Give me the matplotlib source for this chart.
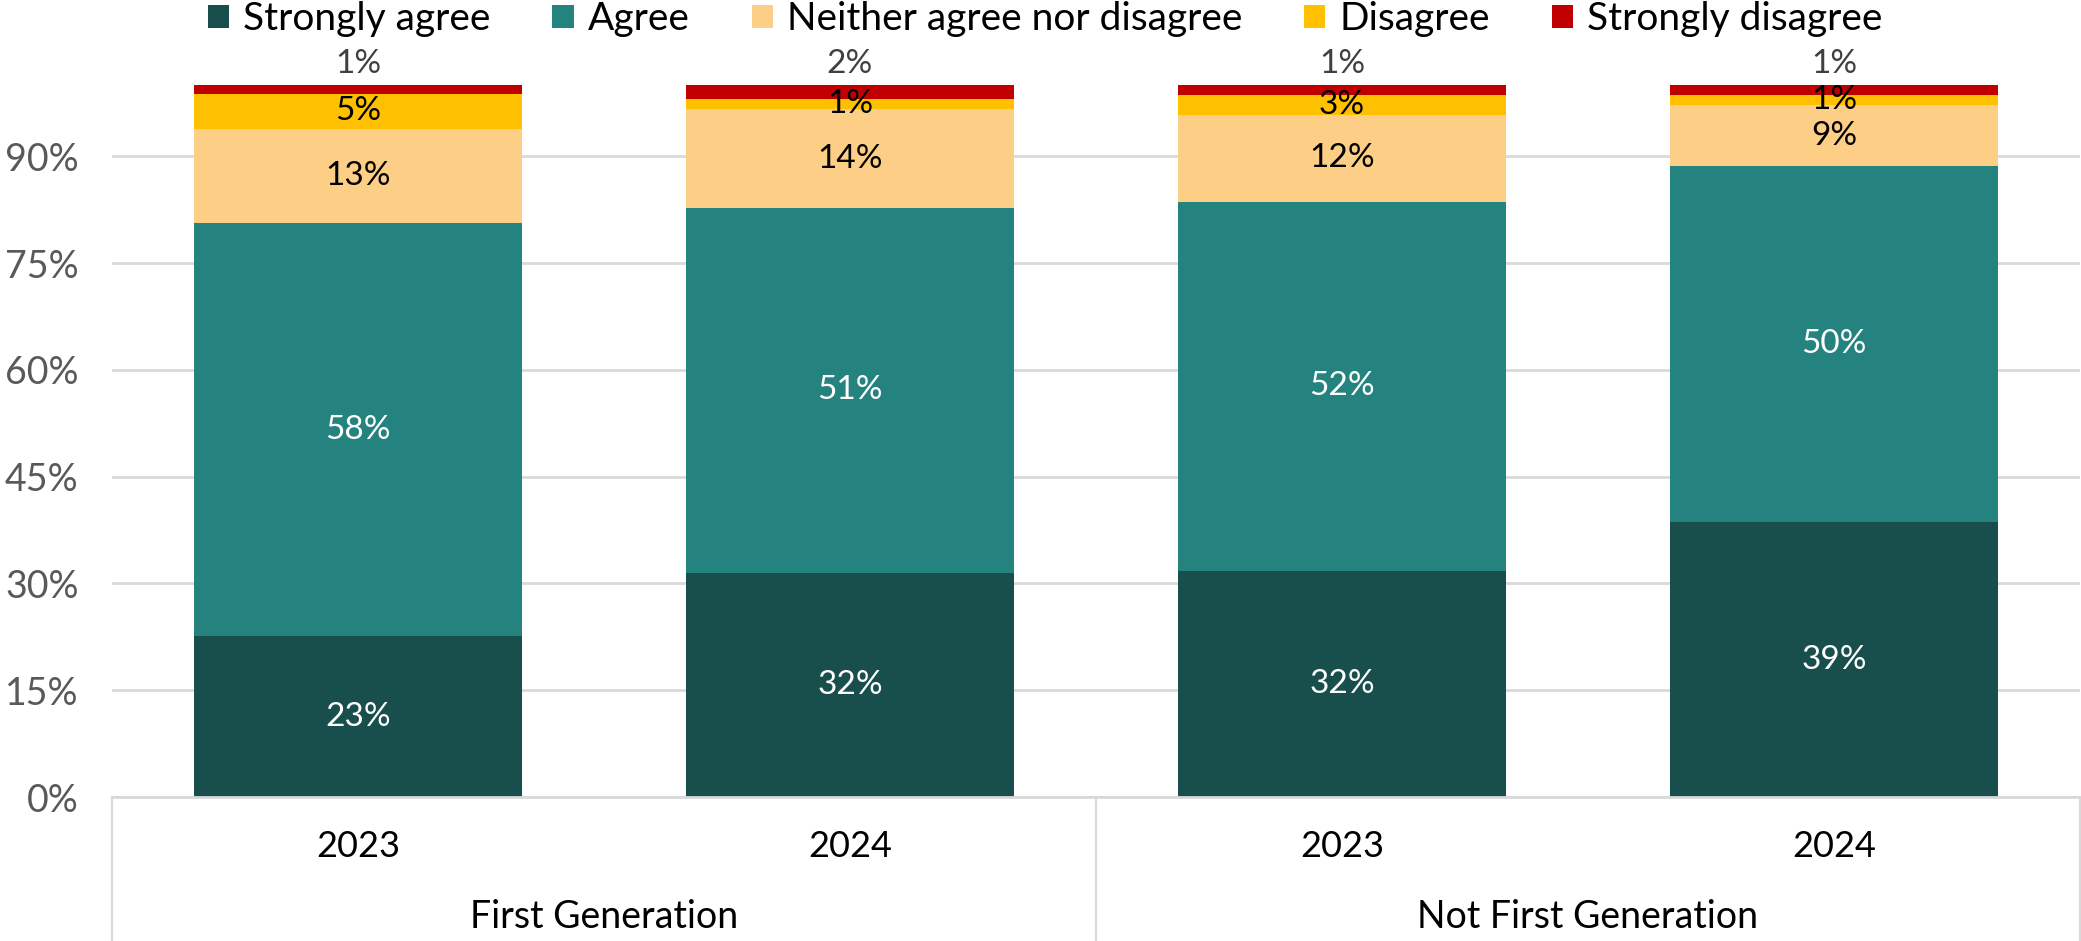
import matplotlib
matplotlib.use("Agg")
import matplotlib.pyplot as plt
import numpy as np
from matplotlib.patches import Patch

plt.rcParams['font.family'] = ['Lato', 'DejaVu Sans']

years = ["2023", "2024", "2023", "2024"]
groups = ["First Generation", "Not First Generation"]
series_names = ["Strongly agree", "Agree", "Neither agree nor disagree", "Disagree", "Strongly disagree"]
strongly_agree = [22.6, 31.5, 31.8, 38.6]
agree = [58.0, 51.2, 51.8, 50.0]
neither = [13.2, 13.9, 12.2, 8.6]
disagree = [5.0, 1.4, 2.8, 1.4]
strongly_disagree = [1.2, 2.0, 1.4, 1.4]
colors = ["#184E4B", "#24837E", "#FDCE86", "#FFC000", "#C00000"]
label_colors = ["white", "white", "black", "black", "#404040"]

series = [strongly_agree, agree, neither, disagree, strongly_disagree]

fig = plt.figure(figsize=(20.81, 9.41), dpi=100)
ax = fig.add_axes([112/2081, 1-797/941, (2080-112)/2081, (797-85)/941])

x = np.arange(len(years))
bottom = np.zeros(len(years))
for i, (vals, col) in enumerate(zip(series, colors)):
    vals = np.array(vals)
    ax.bar(x, vals, bottom=bottom, width=0.667, color=col, label=series_names[i], zorder=2)
    for xi, v, b in zip(x, vals, bottom):
        if i == 4:
            ypos = b + v + 2.9
        else:
            ypos = b + v / 2
        ax.text(xi, ypos, f"{v:.0f}%", ha="center", va="center", fontsize=24,
                color=label_colors[i], zorder=3, clip_on=False)
    bottom += vals

ax.set_xlim(-0.5, len(years) - 0.5)
ax.set_ylim(0, 100)
ax.set_yticks(np.arange(0, 91, 15))
ax.set_yticklabels([f"{t}%" for t in range(0, 91, 15)], fontsize=27, color="#595959")
ax.tick_params(axis="y", length=0, pad=24)
ax.yaxis.grid(True, color="#D9D9D9", linewidth=2, zorder=0)
ax.set_axisbelow(True)
ax.set_xticks([])
for s in ["top", "right", "left"]:
    ax.spines[s].set_visible(False)
ax.spines["bottom"].set_color("#D9D9D9")
ax.spines["bottom"].set_linewidth(2)

trans = ax.get_xaxis_transform()
for xv in [-0.5, 1.5, 3.5]:
    ax.plot([xv, xv], [0, -0.21], transform=trans, color="#D9D9D9", lw=1.5, clip_on=False)
for xi, yr in zip(x, years):
    ax.text(xi, -0.070, yr, transform=trans, ha="center", va="center", fontsize=26, color="black")
for gi, g in enumerate(groups):
    ax.text(0.5 + 2 * gi, -0.169, g, transform=trans, ha="center", va="center", fontsize=27, color="black")

handles = [Patch(facecolor=c, edgecolor="none") for c in colors]
fig.legend(handles, series_names, loc="center", bbox_to_anchor=(1045/2081, 1 - 19/941), ncol=5,
           frameon=False, fontsize=28, handlelength=0.55, handleheight=0.55, handletextpad=0.35,
           columnspacing=1.6, borderpad=0)

fig.savefig("out.png", dpi=100)
